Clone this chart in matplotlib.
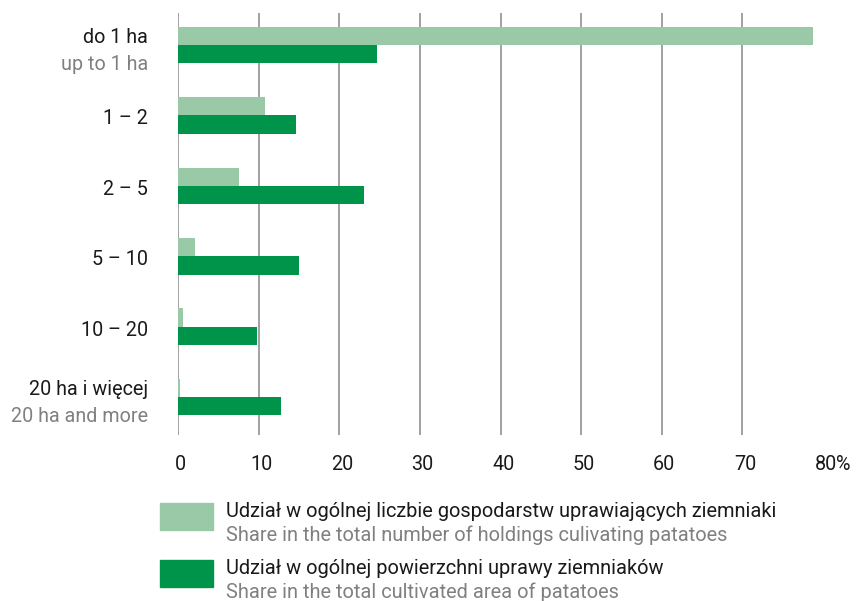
import matplotlib
matplotlib.use("Agg")
import matplotlib.pyplot as plt
import matplotlib.transforms as mtransforms
import numpy as np

plt.rcParams['font.family'] = ['Roboto', 'DejaVu Sans']

categories_pl = ["do 1 ha", "1 – 2", "2 – 5", "5 – 10", "10 – 20", "20 ha i więcej"]
categories_en = ["up to 1 ha", "", "", "", "", "20 ha and more"]
share_holdings = [78.8, 10.75, 7.5, 2.1, 0.6, 0.2]
share_area = [24.7, 14.6, 23.0, 15.0, 9.75, 12.8]
xticks = [0, 10, 20, 30, 40, 50, 60, 70, 80]
xtick_labels = ["0", "10", "20", "30", "40", "50", "60", "70", "80"]
legend_pl = ["Udział w ogólnej liczbie gospodarstw uprawiających ziemniaki",
             "Udział w ogólnej powierzchni uprawy ziemniaków"]
legend_en = ["Share in the total number of holdings culivating patatoes",
             "Share in the total cultivated area of patatoes"]

LIGHT = "#99C9A7"
DARK = "#00944A"
GRAY = "#808080"
GRID = "#9a9a9a"
TXT = "#1a1a1a"
FS = 14.2
LFS = 14.4

W, H = 856, 601
fig = plt.figure(figsize=(W/100, H/100), dpi=100)
L, R, T, B = 178.3, 823, 12.7, 435
ax = fig.add_axes([L/W, 1-B/H, (R-L)/W, (B-T)/H])

y = np.arange(len(categories_pl))
h = 0.26
ax.barh(y - h/2, share_holdings, height=h, color=LIGHT, zorder=3)
ax.barh(y + h/2, share_area, height=h, color=DARK, zorder=3)

ax.set_xlim(0, 80)
ax.set_ylim(5.54, -0.46)
ax.set_xticks(xticks)
ax.set_xticklabels(xtick_labels, fontsize=FS, color=TXT)
ax.tick_params(axis='x', length=0, pad=14.2)
shift = mtransforms.ScaledTranslation(2.5/100, 0, fig.dpi_scale_trans)
for lab in ax.get_xticklabels():
    lab.set_transform(lab.get_transform() + shift)
ax.set_yticks([])
for s in ax.spines.values():
    s.set_visible(False)
for xv in xticks[:-1]:
    ax.axvline(xv, color=GRID, lw=1.3, zorder=1)

# percent sign after 80
ax.annotate("%", xy=(80, 0), xycoords=('data', 'axes fraction'),
            xytext=(9.6, -14.2), textcoords='offset points',
            ha='left', va='top', fontsize=FS, color=TXT)

off = mtransforms.ScaledTranslation(-30/100, 0, fig.dpi_scale_trans)
trans = mtransforms.blended_transform_factory(ax.transAxes, ax.transData) + off
for i, (pl, en) in enumerate(zip(categories_pl, categories_en)):
    if en:
        ax.text(0, i - 0.025, pl, transform=trans, ha='right', va='baseline',
                fontsize=FS, color=TXT)
        ax.text(0, i + 0.355, en, transform=trans, ha='right', va='baseline',
                fontsize=FS, color=GRAY)
    else:
        ax.text(0, i + 0.128, pl, transform=trans, ha='right', va='baseline',
                fontsize=FS, color=TXT)

# legend
colors = [LIGHT, DARK]
patch_tops = [503, 560]
for c, top, pl, en in zip(colors, patch_tops, legend_pl, legend_en):
    fig.patches.append(plt.Rectangle((160/W, 1-(top+27)/H), 53/W, 27/H,
                                     transform=fig.transFigure, color=c))
    fig.text(226/W, 1-(top+14)/H, pl, ha='left', va='baseline',
             fontsize=LFS, color=TXT)
    fig.text(226/W, 1-(top+38)/H, en, ha='left', va='baseline',
             fontsize=LFS, color=GRAY)

fig.savefig("out.png", dpi=100)
